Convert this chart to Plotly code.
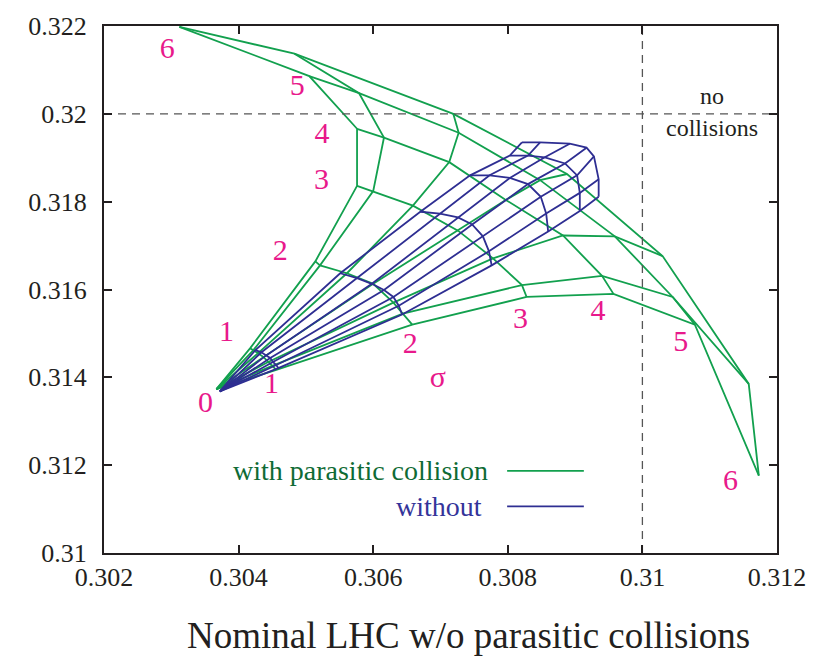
import plotly.graph_objects as go

# Tune footprints (Qx, Qy) for amplitudes 1..6 sigma.
# Rows: amplitude ring 1..6 sigma; columns: amplitude angle from horizontal (0 deg) to vertical (90 deg).
ORIGIN_WITH = (0.30367, 0.31373)
ORIGIN_WITHOUT = (0.30372, 0.31368)

with_qx = [
    [0.30456, 0.30450, 0.30444, 0.30437, 0.30429, 0.30422, 0.30417],
    [0.30658, 0.30644, 0.30630, 0.30600, 0.30561, 0.30521, 0.30514],
    [0.30828, 0.30821, 0.30778, 0.30726, 0.30659, 0.30600, 0.30576],
    [0.30957, 0.30940, 0.30882, 0.30797, 0.30713, 0.30616, 0.30576],
    [0.31078, 0.31045, 0.30959, 0.30848, 0.30727, 0.30579, 0.30505],
    [0.31173, 0.31158, 0.31030, 0.30888, 0.30719, 0.30483, 0.30312],
]
with_qy = [
    [0.31417, 0.31426, 0.31435, 0.31446, 0.31455, 0.31462, 0.31466],
    [0.31520, 0.31545, 0.31570, 0.31613, 0.31637, 0.31655, 0.31664],
    [0.31583, 0.31610, 0.31671, 0.31734, 0.31791, 0.31824, 0.31836],
    [0.31590, 0.31631, 0.31723, 0.31804, 0.31890, 0.31946, 0.31966],
    [0.31520, 0.31583, 0.31721, 0.31849, 0.31957, 0.32047, 0.32086],
    [0.31176, 0.31385, 0.31676, 0.31863, 0.32000, 0.32137, 0.32198],
]

without_qx = [
    [0.30459, 0.30456, 0.30451, 0.30447, 0.30441, 0.30434, 0.30425],
    [0.30643, 0.30638, 0.30630, 0.30616, 0.30598, 0.30576, 0.30551],
    [0.30776, 0.30772, 0.30763, 0.30747, 0.30726, 0.30699, 0.30670],
    [0.30860, 0.30857, 0.30849, 0.30830, 0.30803, 0.30773, 0.30744],
    [0.30907, 0.30907, 0.30903, 0.30885, 0.30855, 0.30830, 0.30803],
    [0.30935, 0.30935, 0.30928, 0.30917, 0.30892, 0.30848, 0.30821],
]
without_qy = [
    [0.31421, 0.31428, 0.31435, 0.31444, 0.31450, 0.31457, 0.31462],
    [0.31543, 0.31563, 0.31583, 0.31599, 0.31613, 0.31626, 0.31637],
    [0.31655, 0.31687, 0.31721, 0.31748, 0.31764, 0.31773, 0.31777],
    [0.31732, 0.31773, 0.31811, 0.31840, 0.31854, 0.31860, 0.31860],
    [0.31779, 0.31820, 0.31860, 0.31887, 0.31901, 0.31905, 0.31905],
    [0.31811, 0.31851, 0.31903, 0.31923, 0.31932, 0.31935, 0.31935],
]

# Nominal working point without collisions
Q_NOMINAL = (0.310, 0.320)

# Amplitude labels (sigma) along both edges of the footprint
sigma_labels = ["6", "5", "4", "3", "2", "1", "0", "1", "2", "3", "4", "5", "6", "σ"]
sigma_label_x = [0.30294, 0.30487, 0.30524, 0.30523, 0.30462, 0.30382, 0.30351,
                 0.30449, 0.30655, 0.30819, 0.30934, 0.31057, 0.31131, 0.30696]
sigma_label_y = [0.32144, 0.32059, 0.31950, 0.31845, 0.31685, 0.31500, 0.31338,
                 0.31381, 0.31473, 0.31529, 0.31547, 0.31477, 0.31160, 0.31396]

x_ticks = [0.302, 0.304, 0.306, 0.308, 0.310, 0.312]
x_ticktext = ["0.302", "0.304", "0.306", "0.308", "0.31", "0.312"]
y_ticks = [0.310, 0.312, 0.314, 0.316, 0.318, 0.320, 0.322]
y_ticktext = ["0.31", "0.312", "0.314", "0.316", "0.318", "0.32", "0.322"]

GREEN = "#12a04e"
BLUE = "#2e2e92"
MAGENTA = "#e8198b"
INK = "#231f20"
FONT = "Liberation Serif"


def grid_paths(origin, qx, qy):
    """Angle lines from the origin out through every ring, then the rings themselves."""
    xs, ys = [], []
    n_ring, n_ang = len(qx), len(qx[0])
    for k in range(n_ang):
        xs += [origin[0]] + [qx[r][k] for r in range(n_ring)] + [None]
        ys += [origin[1]] + [qy[r][k] for r in range(n_ring)] + [None]
    for r in range(n_ring):
        xs += list(qx[r]) + [None]
        ys += list(qy[r]) + [None]
    return xs, ys


fig = go.Figure()

gx, gy = grid_paths(ORIGIN_WITH, with_qx, with_qy)
fig.add_trace(go.Scatter(x=gx, y=gy, mode="lines", line=dict(color=GREEN, width=1.8),
                         hoverinfo="skip", showlegend=False))
bx, by = grid_paths(ORIGIN_WITHOUT, without_qx, without_qy)
fig.add_trace(go.Scatter(x=bx, y=by, mode="lines", line=dict(color=BLUE, width=1.8),
                         hoverinfo="skip", showlegend=False))

# dashed lines at the nominal tunes
fig.add_trace(go.Scatter(x=[Q_NOMINAL[0], Q_NOMINAL[0]], y=[0.310, 0.322], mode="lines",
                         line=dict(color="#555555", width=1.3, dash="8px,6px"),
                         hoverinfo="skip", showlegend=False))
fig.add_trace(go.Scatter(x=[0.302, 0.312], y=[Q_NOMINAL[1], Q_NOMINAL[1]], mode="lines",
                         line=dict(color="#555555", width=1.3, dash="8px,6px"),
                         hoverinfo="skip", showlegend=False))

# sigma labels
fig.add_trace(go.Scatter(x=sigma_label_x, y=sigma_label_y, mode="text", text=sigma_labels,
                         textfont=dict(family=FONT, size=30, color=MAGENTA),
                         hoverinfo="skip", showlegend=False))

annotations = [
    dict(x=0.31103, y=0.32041, text="no", showarrow=False,
         font=dict(family=FONT, size=24, color=INK), xanchor="center", yanchor="middle"),
    dict(x=0.31103, y=0.31968, text="collisions", showarrow=False,
         font=dict(family=FONT, size=24, color=INK), xanchor="center", yanchor="middle"),
    dict(x=0.30773, y=0.31187, text="with parasitic collision", showarrow=False,
         font=dict(family=FONT, size=28, color="#0f6b35"), xanchor="right", yanchor="middle"),
    dict(x=0.30765, y=0.31106, text="without", showarrow=False,
         font=dict(family=FONT, size=28, color="#34349a"), xanchor="right", yanchor="middle"),
    dict(x=0.541, y=-0.156, xref="paper", yref="paper", text="Nominal LHC w/o parasitic collisions",
         showarrow=False, font=dict(family=FONT, size=37, color=INK),
         xanchor="center", yanchor="middle"),
]

# legend samples
fig.add_trace(go.Scatter(x=[0.30799, 0.30913], y=[0.31187, 0.31187], mode="lines",
                         line=dict(color=GREEN, width=1.8), hoverinfo="skip", showlegend=False))
fig.add_trace(go.Scatter(x=[0.30799, 0.30913], y=[0.31106, 0.31106], mode="lines",
                         line=dict(color=BLUE, width=1.8), hoverinfo="skip", showlegend=False))

axis_common = dict(showgrid=False, zeroline=False, showline=True, linewidth=2, linecolor=INK,
                   ticks="inside", ticklen=8, tickwidth=1.5, tickcolor=INK, mirror="ticks",
                   tickfont=dict(family=FONT, size=26, color=INK))

fig.update_layout(
    width=827, height=659,
    margin=dict(l=104, r=50, t=20, b=106),
    paper_bgcolor="white", plot_bgcolor="white",
    font=dict(family=FONT),
    xaxis=dict(range=[0.302, 0.312], tickvals=x_ticks, ticktext=x_ticktext,
               ticklabelstandoff=0, **axis_common),
    yaxis=dict(range=[0.310, 0.322], tickvals=y_ticks, ticktext=y_ticktext,
               ticklabelstandoff=10, **axis_common),
    annotations=annotations,
    showlegend=False,
)

fig.write_html("out.html")
